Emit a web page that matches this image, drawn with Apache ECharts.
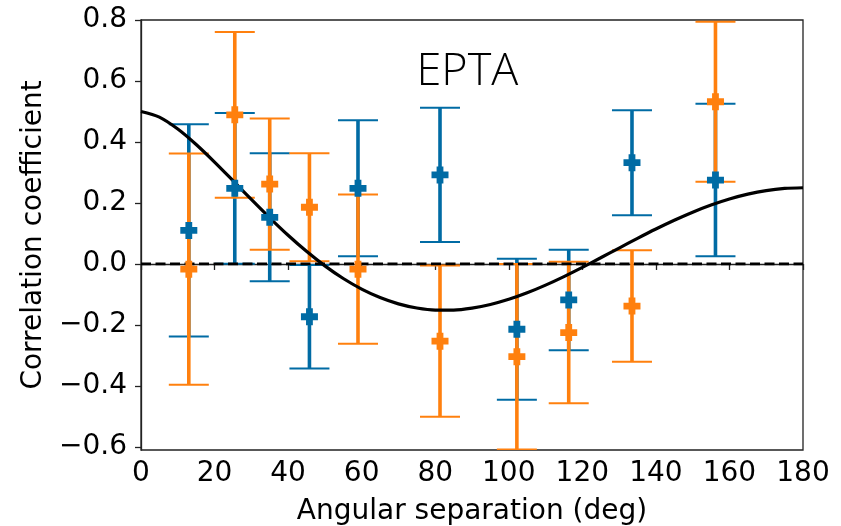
<!DOCTYPE html>
<html>
<head>
<meta charset="utf-8">
<script src="https://cdn.jsdelivr.net/npm/echarts@6/dist/echarts.min.js"></script>
<style>
html,body{margin:0;padding:0;background:#fff;}
#chart{width:841px;height:526px;}
</style>
</head>
<body>
<div id="chart"></div>
<script>
// Angular separation bins (deg)
var angles = [13, 25.5, 35, 45.8, 59, 81.3, 102.2, 116.3, 133.5, 156.2];
// Blue data set
var blueVals = [0.11, 0.248, 0.153, -0.173, 0.248, 0.292, -0.214, -0.118, 0.332, 0.275];
var blueErr  = [0.348, 0.247, 0.21, 0.17, 0.223, 0.22, 0.231, 0.165, 0.172, 0.25];
// Orange data set
var orangeVals = [-0.017, 0.489, 0.262, 0.186, -0.017, -0.253, -0.304, -0.225, -0.138, 0.532];
var orangeErr  = [0.379, 0.272, 0.215, 0.177, 0.245, 0.248, 0.304, 0.232, 0.183, 0.262];
// Expected (Hellings-Downs) curve read at 5 deg steps
var curveAngles = [0,5,10,15,20,25,30,35,40,45,50,55,60,65,70,75,80,85,90,95,100,105,110,115,120,125,130,135,140,145,150,155,160,165,170,175,180];
var curveVals = [0.5,0.4816,0.4425,0.3917,0.3341,0.2732,0.2116,0.1514,0.0942,0.0414,-0.0062,-0.0476,-0.0824,-0.1102,-0.1309,-0.1445,-0.1511,-0.1511,-0.1449,-0.1329,-0.1159,-0.0945,-0.0693,-0.0413,-0.0111,0.0203,0.0522,0.0839,0.1145,0.1433,0.1697,0.1931,0.2130,0.2289,0.2406,0.2476,0.25];
// Zero reference line: [x start, x end, y]
var zeroLine = [[0, 180, 0]];
// Axis ticks
var xTicks = [0,20,40,60,80,100,120,140,160,180];
var yTicks = [-0.6,-0.4,-0.2,0.0,0.2,0.4,0.6,0.8];

var BLUE = '#006BA4', ORANGE = '#FF800E';
var plusPath = 'path://M3,0H7V3H10V7H7V10H3V7H0V3H3Z';

function errData(vals, errs){
  return angles.map(function(a,i){ return [a, vals[i]-errs[i], vals[i]+errs[i]]; });
}
function ptData(vals){
  return angles.map(function(a,i){ return [a, vals[i]]; });
}
function errRender(color){
  return function(params, api){
    var x = api.value(0);
    var lo = api.coord([x, api.value(1)]);
    var hi = api.coord([x, api.value(2)]);
    var hw = 20;
    return {
      type: 'group',
      children: [
        {type:'line', shape:{x1:lo[0],y1:lo[1],x2:hi[0],y2:hi[1]}, style:{stroke:color,lineWidth:3.6}},
        {type:'line', shape:{x1:lo[0]-hw,y1:lo[1],x2:lo[0]+hw,y2:lo[1]}, style:{stroke:color,lineWidth:2}},
        {type:'line', shape:{x1:hi[0]-hw,y1:hi[1],x2:hi[0]+hw,y2:hi[1]}, style:{stroke:color,lineWidth:2}}
      ]
    };
  };
}
function zeroRender(params, api){
  var a = api.coord([api.value(0), api.value(2)]);
  var b = api.coord([api.value(1), api.value(2)]);
  return {type:'line', shape:{x1:a[0],y1:a[1],x2:b[0],y2:b[1]},
    style:{stroke:'#000', lineWidth:2.8, lineDash:[10,4.5], fill:null}};
}
function fmt(v){
  var s = Math.abs(v).toFixed(1);
  return (v < -1e-9 ? '\u2212' : '') + s;
}

var chart = echarts.init(document.getElementById('chart'), null, {renderer:'canvas'});
var font = 'DejaVu Sans';
var option = {
  animation: false,
  backgroundColor: '#fff',
  grid: {left:141, right:38, top:20, bottom:76, containLabel:false, outerBoundsMode:'none',
         show:true, borderColor:'#222', borderWidth:1.3, backgroundColor:'transparent'},
  xAxis: {
    type:'value', min:0, max:180, interval:20,
    name:'Angular separation (deg)', nameLocation:'middle', nameGap:48,
    nameTextStyle:{fontFamily:font, fontSize:28, color:'#000'},
    axisLine:{show:true, lineStyle:{color:'#222', width:1.3}},
    axisTick:{show:true, length:6, lineStyle:{color:'#222', width:1.3}},
    axisLabel:{fontFamily:font, fontSize:28, color:'#000', margin:10},
    splitLine:{show:false}
  },
  yAxis: {
    type:'value', min:-0.61, max:0.8,
    name:'Correlation coefficient', nameLocation:'middle', nameGap:90,
    nameTextStyle:{fontFamily:font, fontSize:28, color:'#000'},
    axisLine:{show:true, lineStyle:{color:'#222', width:1.3}},
    axisTick:{show:true, length:6, lineStyle:{color:'#222', width:1.3}, customValues: yTicks},
    axisLabel:{fontFamily:font, fontSize:28, color:'#000', margin:14, customValues: yTicks, formatter: fmt},
    splitLine:{show:false}
  },
  series: [
    {type:'custom', name:'blueErr', data: errData(blueVals, blueErr), renderItem: errRender(BLUE), z:2, clip:true},
    {type:'custom', name:'orangeErr', data: errData(orangeVals, orangeErr), renderItem: errRender(ORANGE), z:2, clip:true},
    {type:'custom', name:'zero', data: zeroLine, renderItem: zeroRender, z:3, silent:true,
      encode:{x:[0,1], y:2}},
    {type:'line', name:'HD', data: curveAngles.map(function(a,i){return [a, curveVals[i]];}), smooth:0.3, showSymbol:false, lineStyle:{color:'#000', width:3.2}, z:3, clip:true},
    {type:'scatter', name:'blue', data: ptData(blueVals), symbol: plusPath, symbolSize:17, itemStyle:{color:BLUE, opacity:1}, z:4},
    {type:'scatter', name:'orange', data: ptData(orangeVals), symbol: plusPath, symbolSize:17, itemStyle:{color:ORANGE, opacity:1}, z:5}
  ]
};
chart.setOption(option);
var p = chart.convertToPixel({gridIndex:0}, [74.9, 0.556]);
chart.setOption({
  graphic: [{type:'text', x:p[0], y:p[1], z:10,
    style:{text:'EPTA', fill:'#000', font:'300 45px "Open Sans"', textAlign:'left', textVerticalAlign:'bottom'}}]
});
</script>
</body>
</html>
